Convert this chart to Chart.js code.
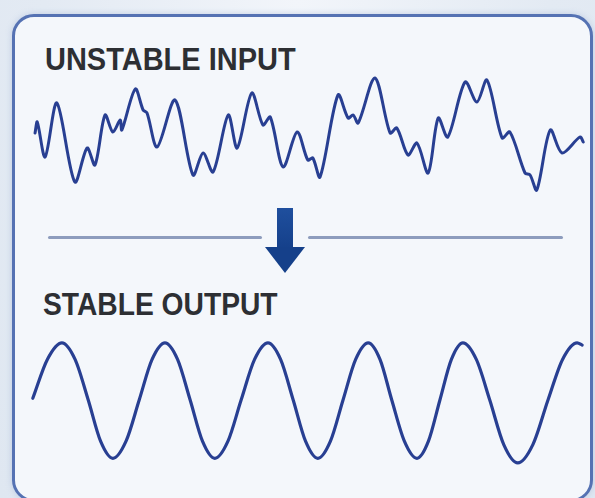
<!DOCTYPE html>
<html>
<head>
<meta charset="utf-8">
<script src="https://cdn.jsdelivr.net/npm/chart.js@4.4.0/dist/chart.umd.min.js"></script>
<style>
  body { margin:0; width:595px; height:498px; overflow:hidden;
         background: radial-gradient(ellipse at 50% 0%, #f2f5fa 0%, #e3eaf3 60%, #dfe7f1 100%);
         font-family: "Liberation Sans", Arial, sans-serif; }
  .panel { position:absolute; left:12px; top:14px; width:575px; height:482px;
           border:3px solid #5572b3; border-radius:22px; background:#f4f7fb;
           box-shadow: 0 0 6px rgba(120,150,200,0.35); }
  .title { position:absolute; font-weight:bold; font-size:31px; color:#2d2f33;
           transform-origin:0 0; white-space:nowrap; }
  .rule { position:absolute; height:3px; background:#8d9cbd; border-radius:2px; }
  .shaft { position:absolute; left:277px; top:208px; width:16px; height:41px;
           background:linear-gradient(#1f4f9e, #15408a); }
  .head { position:absolute; left:265px; top:247px; width:0; height:0;
          border-left:20px solid transparent; border-right:20px solid transparent;
          border-top:26px solid #15408a; }
  .plot { position:absolute; }
</style>
</head>
<body>
<div class="panel"></div>
<div class="title" style="left:45px; top:42px; transform:scaleX(0.935);">UNSTABLE INPUT</div>
<div class="title" style="left:43px; top:287px; transform:scaleX(0.91);">STABLE OUTPUT</div>
<div class="rule" style="left:48px; top:236px; width:214px;"></div>
<div class="rule" style="left:308px; top:236px; width:255px;"></div>
<div class="shaft"></div>
<div class="head"></div>
<div class="plot" style="left:30px; top:60px; width:560px; height:150px;"><canvas id="inputChart"></canvas></div>
<div class="plot" style="left:30px; top:320px; width:560px; height:160px;"><canvas id="outputChart"></canvas></div>
<script>
// noisy input signal (time 0-100, amplitude)
const inputTime = [0.9, 1.3, 2.7, 4.8, 8.0, 10.2, 11.6, 13.4, 14.8, 16.1, 16.4, 18.8, 20.2, 20.9, 22.7,
  25.9, 29.1, 30.9, 32.7, 35.4, 37.0, 39.6, 41.6, 42.9, 45.2, 47.7, 49.6, 50.5, 51.8, 55.0, 56.8,
  57.7, 58.6, 61.6, 64.3, 65.5, 67.5, 69.1, 71.1, 72.9, 74.6, 77.7, 79.8, 81.6, 84.3, 85.7, 88.4,
  89.3, 90.5, 92.9, 95.0, 98.2, 98.8];
const inputValue = [0.04, 0.26, -0.44, 0.64, -0.94, -0.26, -0.60, 0.40, 0.06, 0.30, 0.10, 0.92, 0.50, 0.44, -0.24,
  0.70, -0.80, -0.36, -0.74, 0.40, -0.26, 0.84, 0.20, 0.36, -0.64, 0.06, -0.50, -0.46, -0.84, 0.80, 0.34,
  0.40, 0.24, 1.14, 0.04, 0.14, -0.40, -0.16, -0.76, 0.34, -0.04, 1.06, 0.66, 1.10, -0.06, 0.06, -0.76,
  -0.80, -1.10, 0.10, -0.36, -0.04, -0.14];

// stable output signal
const outputTime = [0.5, 3.1, 5.7, 8.05, 10.4, 12.6, 14.8, 17.15, 19.5, 21.8, 24.1, 26.35, 28.6,
  30.8, 33.0, 35.35, 37.7, 40.1, 42.5, 44.75, 47.0, 49.2, 51.4, 53.65, 55.9, 58.15, 60.4, 62.5,
  64.6, 66.85, 69.1, 71.15, 73.2, 75.25, 77.3, 79.7, 82.1, 84.6, 87.1, 89.8, 92.5, 95.1, 97.7, 98.6];
const outputValue = [0.03, 0.71, 1.0, 0.71, 0, -0.72, -1.02, -0.72, 0, 0.71, 1.0, 0.71, 0,
  -0.72, -1.02, -0.72, 0, 0.71, 1.0, 0.71, 0, -0.72, -1.02, -0.72, 0, 0.71, 1.0, 0.71,
  0, -0.72, -1.02, -0.72, 0, 0.71, 1.0, 0.71, 0, -0.78, -1.1, -0.78, 0, 0.71, 1.0, 0.96];

const lineColor = '#283f92';

function makeChart(id, xs, ys, yMin, yMax, width, opts) {
  new Chart(document.getElementById(id), {
    type: 'line',
    data: {
      datasets: [Object.assign({
        data: xs.map((x, i) => ({ x: x, y: ys[i] })),
        borderColor: lineColor,
        borderWidth: width,
        pointRadius: 0,
        fill: false,
        clip: 8,
        borderCapStyle: 'round',
        borderJoinStyle: 'round'
      }, opts)]
    },
    options: {
      responsive: true,
      maintainAspectRatio: false,
      animation: false,
      layout: { padding: 0 },
      plugins: { legend: { display: false }, tooltip: { enabled: false } },
      scales: {
        x: { type: 'linear', min: 0, max: 100, display: false },
        y: { min: yMin, max: yMax, display: false }
      }
    }
  });
}

makeChart('inputChart', inputTime, inputValue, -1.5, 1.5, 3, { tension: 0.3 });
makeChart('outputChart', outputTime, outputValue, -1.4, 1.4, 3.2, { cubicInterpolationMode: 'monotone' });
</script>
</body>
</html>
